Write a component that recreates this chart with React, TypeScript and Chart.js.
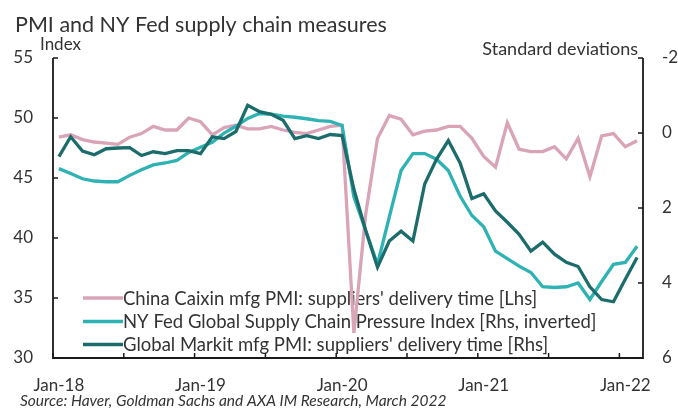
import React, { useEffect, useRef } from "react";
import { Chart, registerables } from "chart.js";

Chart.register(...registerables);

const months: string[] = [
  "Jan-18","Feb-18","Mar-18","Apr-18","May-18","Jun-18","Jul-18","Aug-18","Sep-18","Oct-18","Nov-18","Dec-18",
  "Jan-19","Feb-19","Mar-19","Apr-19","May-19","Jun-19","Jul-19","Aug-19","Sep-19","Oct-19","Nov-19","Dec-19",
  "Jan-20","Feb-20","Mar-20","Apr-20","May-20","Jun-20","Jul-20","Aug-20","Sep-20","Oct-20","Nov-20","Dec-20",
  "Jan-21","Feb-21","Mar-21","Apr-21","May-21","Jun-21","Jul-21","Aug-21","Sep-21","Oct-21","Nov-21","Dec-21",
  "Jan-22","Feb-22",
];

// China Caixin mfg PMI: suppliers' delivery time (index, left axis)
const chinaCaixin: number[] = [
  48.4, 48.6, 48.2, 48.0, 47.9, 47.8, 48.4, 48.7, 49.3, 49.0, 49.0, 50.0,
  49.7, 48.6, 49.2, 49.4, 49.1, 49.1, 49.3, 49.0, 48.8, 48.7, 49.0, 49.3,
  49.4, 32.1, 42.0, 48.3, 50.2, 49.9, 48.6, 48.9, 49.0, 49.3, 49.3, 48.3,
  46.8, 45.9, 49.6, 47.4, 47.2, 47.2, 47.6, 46.6, 48.3, 45.1, 48.5, 48.7,
  47.6, 48.1,
];

// NY Fed Global Supply Chain Pressure Index (std devs, right axis inverted)
const nyFedGscpi: number[] = [
  0.95, 1.08, 1.22, 1.28, 1.30, 1.30, 1.13, 0.98, 0.85, 0.80, 0.73, 0.52,
  0.38, 0.25, 0.0, -0.18, -0.39, -0.52, -0.5, -0.45, -0.42, -0.38, -0.33, -0.31,
  -0.2, 1.7, 2.6, 3.5, 2.24, 1.0, 0.55, 0.55, 0.7, 1.0, 1.68, 2.2,
  2.5, 3.15, 3.35, 3.55, 3.72, 4.1, 4.12, 4.1, 4.0, 4.44, 3.96, 3.5,
  3.45, 3.02,
];

// Global Markit mfg PMI: suppliers' delivery time (std devs, right axis)
const globalMarkit: number[] = [
  0.63, 0.1, 0.48, 0.58, 0.42, 0.40, 0.39, 0.6, 0.5, 0.55, 0.47, 0.47,
  0.55, 0.1, 0.15, -0.04, -0.74, -0.57, -0.5, -0.34, 0.15, 0.07, 0.15, 0.04,
  0.07, 1.5, 2.6, 3.58, 2.88, 2.62, 2.88, 1.36, 0.7, 0.2, 0.8, 1.75,
  1.62, 2.08, 2.38, 2.7, 3.15, 2.91, 3.23, 3.45, 3.56, 4.1, 4.44, 4.5,
  3.9, 3.32,
];

const leftTicks: number[] = [30, 35, 40, 45, 50, 55];
const rightTicks: number[] = [-2, 0, 2, 4, 6];

const seriesNames: string[] = [
  "China Caixin mfg PMI: suppliers' delivery time [Lhs]",
  "NY Fed Global Supply Chain Pressure Index [Rhs, inverted]",
  "Global Markit mfg PMI: suppliers' delivery time [Rhs]",
];

const PINK = "#d9a3b8";
const LIGHT_TEAL = "#2fb2b4";
const DARK_TEAL = "#1c6c6c";
const seriesColors: string[] = [PINK, LIGHT_TEAL, DARK_TEAL];

const FONT = "Lato, 'Open Sans', sans-serif";
const TEXT = "#333333";

const decorPlugin = {
  id: "decor",
  beforeDraw(chart: any) {
    const ctx = chart.ctx;
    ctx.save();
    ctx.fillStyle = "#ffffff";
    ctx.fillRect(0, 0, chart.width, chart.height);
    ctx.restore();
  },
  beforeDatasetsDraw(chart: any) {
    const ctx = chart.ctx;
    ctx.save();
    const rows = [298, 321.5, 344.5];
    ctx.font = `18.5px ${FONT}`;
    ctx.textBaseline = "middle";
    seriesNames.forEach((name, i) => {
      ctx.strokeStyle = seriesColors[i];
      ctx.lineWidth = 3.5;
      ctx.beginPath();
      ctx.moveTo(83, rows[i]);
      ctx.lineTo(123, rows[i]);
      ctx.stroke();
      ctx.fillStyle = TEXT;
      ctx.fillText(name, 123, rows[i] + 1);
    });
    ctx.restore();
  },
  afterDraw(chart: any) {
    const ctx = chart.ctx;
    const { left, right, top, bottom } = chart.chartArea;
    const xs = chart.scales.x;
    const yl = chart.scales.y;
    const yr = chart.scales.y1;
    ctx.save();
    ctx.strokeStyle = "#1a1a1a";
    ctx.lineWidth = 1.8;
    ctx.beginPath();
    ctx.moveTo(left, top);
    ctx.lineTo(left, bottom);
    ctx.lineTo(right, bottom);
    ctx.lineTo(right, top);
    ctx.stroke();
    ctx.lineWidth = 1.5;
    ctx.beginPath();
    leftTicks.forEach((v) => {
      const y = yl.getPixelForValue(v);
      ctx.moveTo(left, y);
      ctx.lineTo(left + 5, y);
    });
    rightTicks.forEach((v) => {
      const y = yr.getPixelForValue(v);
      ctx.moveTo(right, y);
      ctx.lineTo(right - 5, y);
    });
    const half = (xs.getPixelForValue(1) - xs.getPixelForValue(0)) / 2;
    for (let i = 0; i < months.length; i += 6) {
      const x = xs.getPixelForValue(i) - half;
      ctx.moveTo(x, bottom);
      ctx.lineTo(x, bottom - 5);
    }
    ctx.stroke();

    ctx.fillStyle = TEXT;
    ctx.font = `21.5px ${FONT}`;
    ctx.textBaseline = "alphabetic";
    ctx.textAlign = "left";
    ctx.fillText("PMI and NY Fed supply chain measures", 15, 32);
    ctx.font = `17px ${FONT}`;
    ctx.fillText("Index", 40, 50);
    ctx.textAlign = "right";
    ctx.font = `18px ${FONT}`;
    ctx.fillText("Standard deviations", 638, 55);
    ctx.textAlign = "left";
    ctx.font = `italic 15.5px ${FONT}`;
    ctx.fillText("Source: Haver, Goldman Sachs and AXA IM Research, March 2022", 20, 406);
    ctx.restore();
  },
};

export default function App() {
  const ref = useRef<HTMLCanvasElement | null>(null);
  useEffect(() => {
    document.body.style.margin = "0";
    if (!ref.current) return;
    const chart = new Chart(ref.current, {
      type: "line",
      data: {
        labels: months,
        datasets: [
          {
            label: seriesNames[2],
            data: globalMarkit,
            yAxisID: "y1",
            borderColor: DARK_TEAL,
            borderWidth: 3.3,
            pointRadius: 0,
            tension: 0,
            order: 0,
          },
          {
            label: seriesNames[1],
            data: nyFedGscpi,
            yAxisID: "y1",
            borderColor: LIGHT_TEAL,
            borderWidth: 3.3,
            pointRadius: 0,
            tension: 0,
            order: 1,
          },
          {
            label: seriesNames[0],
            data: chinaCaixin,
            yAxisID: "y",
            borderColor: PINK,
            borderWidth: 3.3,
            pointRadius: 0,
            tension: 0,
            order: 2,
          },
        ],
      },
      options: {
        responsive: false,
        animation: false,
        devicePixelRatio: 1,
        layout: { padding: { top: 58, left: 0, right: 0, bottom: 0 } },
        plugins: {
          legend: { display: false },
          title: { display: false },
          tooltip: { enabled: false },
        },
        scales: {
          x: {
            type: "category",
            offset: true,
            grid: { display: false, drawTicks: false },
            border: { display: false },
            ticks: {
              autoSkip: false,
              maxRotation: 0,
              minRotation: 0,
              padding: 17,
              color: TEXT,
              font: { family: FONT, size: 17 },
              callback: (_v: any, i: number) => (i % 12 === 0 ? months[i] : ""),
            },
            afterFit: (s: any) => {
              s.height = 52;
            },
          },
          y: {
            position: "left",
            min: 30,
            max: 55,
            grid: { display: false, drawTicks: false },
            border: { display: false },
            ticks: {
              stepSize: 5,
              padding: 20,
              color: TEXT,
              font: { family: FONT, size: 17 },
            },
            afterFit: (s: any) => {
              s.width = 53;
            },
          },
          y1: {
            position: "right",
            min: -2,
            max: 6,
            reverse: true,
            grid: { display: false, drawTicks: false },
            border: { display: false },
            ticks: {
              stepSize: 2,
              padding: 19,
              color: TEXT,
              font: { family: FONT, size: 17 },
            },
            afterFit: (s: any) => {
              s.width = 35;
            },
          },
        },
      },
      plugins: [decorPlugin],
    });
    return () => chart.destroy();
  }, []);
  return (
    <div style={{ position: "relative", width: 678, height: 410 }}>
      <canvas ref={ref} width={678} height={410} style={{ display: "block" }} />
    </div>
  );
}
